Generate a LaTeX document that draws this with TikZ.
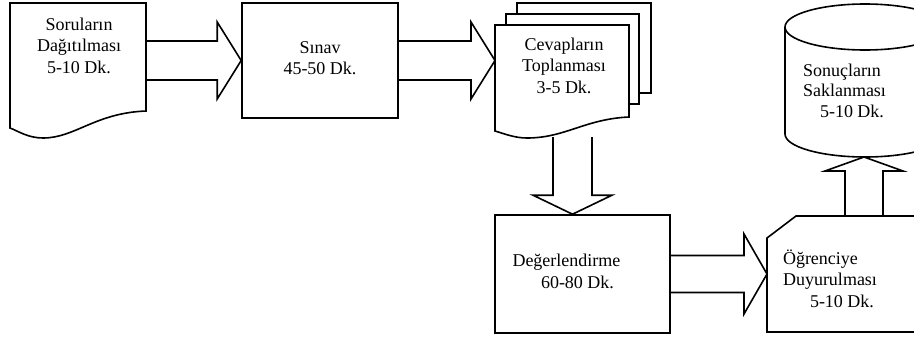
\documentclass[tikz,border=0pt]{standalone}
\usepackage{fontspec}
\setmainfont{Liberation Serif}
\usetikzlibrary{calc}
\tikzset{
  outline/.style={draw=black, line width=1.6pt, line join=miter, fill=white},
  blk/.style={draw=black, line width=1.6pt, line join=miter},
  frame/.style={draw=none, inner sep=0pt, outer sep=0pt, rectangle},
  lbl/.style={inner sep=0pt, outer sep=0pt, font=\fontsize{18}{21.5}\selectfont, anchor=base},
}
\newcommand\rowsc[1]{\begin{tabular}[t]{@{}c@{}}#1\end{tabular}}
\newcommand\rowsl[1]{\begin{tabular}[t]{@{}l@{}}#1\end{tabular}}
% horizontal block arrow: start, end, shaft half, head half, head length
\newcommand\harr[5]{%
  \draw[blk] let \p1=#1, \p2=#2 in
    (\x1,\y1+#3pt) -- (\x2-#5pt,\y1+#3pt) -- (\x2-#5pt,\y1+#4pt) -- (\x2,\y1)
    -- (\x2-#5pt,\y1-#4pt) -- (\x2-#5pt,\y1-#3pt) -- (\x1,\y1-#3pt);}
% vertical block arrow: start, end, shaft half, head half, signed head length
\newcommand\varr[5]{%
  \draw[blk] let \p1=#1, \p2=#2 in
    (\x1-#3pt,\y1) -- (\x1-#3pt,\y2+#5pt) -- (\x1-#4pt,\y2+#5pt) -- (\x1,\y2)
    -- (\x1+#4pt,\y2+#5pt) -- (\x1+#3pt,\y2+#5pt) -- (\x1+#3pt,\y1);}
\begin{document}
\begin{tikzpicture}[x=1pt, y=-1pt]
\path[use as bounding box, clip] (0,0) rectangle (914,338);

% Document 1
\node[frame, minimum width=136pt, minimum height=108pt] (doc1) at (78,57) {};
\draw[outline] (doc1.south east) -- (doc1.north east) -- (doc1.north west) -- (10,128)
  .. controls (18,131) and (28,138) .. (43,138)
  .. controls (75,138) and (95,113) .. (doc1.south east) -- cycle;
\node[lbl] (t1) at (79,30) {\rowsc{Soruların\\Dağıtılması\\5-10 Dk.}};

% Sinav
\node[outline, rectangle, inner sep=0pt, minimum width=156pt, minimum height=115pt] (sinav) at (320,60.5) {};
\node[lbl, font=\fontsize{18}{21}\selectfont] (t2) at (320,53.3) {\rowsc{Sınav\\45-50 Dk.}};

% Stack of documents
\draw[outline] (517,3) rectangle (651,93);
\draw[outline] (506,14) rectangle (639,104);
\node[frame, minimum width=134pt, minimum height=92pt] (doc2) at (562,71) {};
\draw[outline] (doc2.south east) -- (doc2.north east) -- (doc2.north west) -- (495,131)
  .. controls (505,134) and (515,138) .. (527,138)
  .. controls (565,138) and (585,119) .. (doc2.south east) -- cycle;
\node[lbl] (t3) at (564,50) {\rowsc{Cevapların\\Toplanması\\3-5 Dk.}};

% Degerlendirme
\node[outline, rectangle, inner sep=0pt, minimum width=175pt, minimum height=118pt] (deger) at (582.5,274) {};
\node[lbl, anchor=base west, font=\fontsize{18}{22}\selectfont] (t4) at (512.5,266) {\rowsl{Değerlendirme\\\hspace*{28.5pt}60-80 Dk.}};

% Ogrenciye
\node[frame, minimum width=160pt, minimum height=116pt] (ogr) at (847,274) {};
\draw[outline] (ogr.south west) -- (767,238) -- (796,216) -- (ogr.north east) -- (ogr.south east) -- cycle;
\node[lbl, anchor=base west] (t5) at (783,264) {\rowsl{Öğrenciye\\Duyurulması\\\hspace*{27pt}5-10 Dk.}};

% Cylinder
\node[frame, minimum width=160pt, minimum height=153pt] (cyl) at (865,80.5) {};
\draw[outline] (785,27) -- (785,134)
  .. controls (785,146.7) and (820.8,157) .. (865,157)
  .. controls (909.2,157) and (945,146.7) .. (945,134) -- (945,27);
\draw[outline] (785,27) .. controls (785,14.3) and (820.8,4) .. (865,4)
  .. controls (909.2,4) and (945,14.3) .. (945,27)
  .. controls (945,39.7) and (909.2,50) .. (865,50)
  .. controls (820.8,50) and (785,39.7) .. (785,27) -- cycle;
\node[lbl, anchor=base west, font=\fontsize{18}{20.5}\selectfont] (t6) at (803,76) {\rowsl{Sonuçların\\Saklanması\\\hspace*{17pt}5-10 Dk.}};

% Block arrows
\harr{(doc1.east |- sinav.west)}{(sinav.west)}{19.5}{38.5}{24}
\harr{(sinav.east)}{(doc2.west |- sinav.east)}{19.5}{38.5}{24}
\coordinate (a3) at (572.5,137);
\varr{(a3)}{(a3 |- deger.north)}{19.5}{39.5}{19}
\harr{(deger.east)}{(ogr.west |- deger.east)}{18.5}{40}{23}
\coordinate (a5) at (864,157);
\varr{(ogr.north -| a5)}{(a5)}{19}{39}{-14}
\end{tikzpicture}
\end{document}
